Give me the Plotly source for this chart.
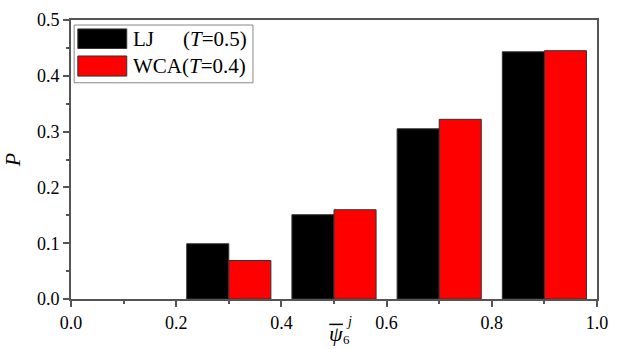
import plotly.graph_objects as go

bins = [0.3, 0.5, 0.7, 0.9]
lj_values = [0.099, 0.151, 0.305, 0.443]
wca_values = [0.069, 0.160, 0.322, 0.445]
x_ticks = [0.0, 0.2, 0.4, 0.6, 0.8, 1.0]
y_ticks = [0.0, 0.1, 0.2, 0.3, 0.4, 0.5]

FONT = "Liberation Serif"
AX = "#555555"

fig = go.Figure()
fig.add_trace(go.Bar(x=bins, y=lj_values, name="LJ (T=0.5)",
                     marker=dict(color="black", line=dict(color="#333333", width=1))))
fig.add_trace(go.Bar(x=bins, y=wca_values, name="WCA(T=0.4)",
                     marker=dict(color="#ff0000", line=dict(color="#333333", width=1))))

fig.update_layout(
    width=618, height=349,
    margin=dict(l=71, r=10, t=15, b=50),
    paper_bgcolor="white", plot_bgcolor="white",
    barmode="group", bargap=0.2, bargroupgap=0,
    showlegend=False,
    font=dict(family=FONT, size=18, color="black"),
)
fig.update_xaxes(range=[0, 1.0], tickvals=x_ticks, ticktext=[f"{v:.1f}" for v in x_ticks],
                 tickfont=dict(family=FONT, size=18),
                 showgrid=False, zeroline=False, showline=True, linecolor=AX, linewidth=2,
                 mirror=True, ticks="outside", ticklen=6, tickwidth=1.5, tickcolor=AX,
                 minor=dict(ticks="outside", ticklen=3, tickwidth=1.5, tickcolor=AX, dtick=0.1))
fig.update_yaxes(range=[0, 0.5], tickvals=y_ticks, ticktext=[f"{v:.1f}" for v in y_ticks],
                 tickfont=dict(family=FONT, size=18),
                 showgrid=False, zeroline=False, showline=True, linecolor=AX, linewidth=2,
                 mirror=True, ticks="outside", ticklen=6, tickwidth=1.5, tickcolor=AX,
                 minor=dict(ticks="outside", ticklen=3, tickwidth=1.5, tickcolor=AX, dtick=0.05),
                 title=dict(text="<i>P</i>", font=dict(family=FONT, size=22), standoff=12))

# x-axis title: psi-bar with subscript 6 and superscript j stacked
fig.add_annotation(xref="paper", yref="paper", x=0.504, y=-0.124, text="<i>ψ</i>", showarrow=False,
                   xanchor="center", yanchor="middle", font=dict(family=FONT, size=22))
fig.add_annotation(xref="paper", yref="paper", x=0.524, y=-0.146, text="6", showarrow=False,
                   xanchor="center", yanchor="middle", font=dict(family=FONT, size=13))
fig.add_annotation(xref="paper", yref="paper", x=0.528, y=-0.080, text="<i>j</i>", showarrow=False,
                   xanchor="center", yanchor="middle", font=dict(family=FONT, size=14))
fig.add_shape(type="line", xref="paper", yref="paper", x0=0.491, x1=0.517, y0=-0.091, y1=-0.091,
              line=dict(color="black", width=1.5))

# manual legend
fig.add_shape(type="rect", xref="paper", yref="paper", x0=0.006, x1=0.346, y0=0.775, y1=0.982,
              line=dict(color="#888888", width=1), fillcolor="white")
fig.add_shape(type="rect", xref="paper", yref="paper", x0=0.013, x1=0.106, y0=0.898, y1=0.968,
              line=dict(color="#333333", width=1), fillcolor="black")
fig.add_shape(type="rect", xref="paper", yref="paper", x0=0.013, x1=0.106, y0=0.799, y1=0.871,
              line=dict(color="#333333", width=1), fillcolor="#ff0000")
fig.add_annotation(xref="paper", yref="paper", x=0.115, y=0.933, text="LJ", showarrow=False,
                   xanchor="left", yanchor="middle", font=dict(family=FONT, size=21))
fig.add_annotation(xref="paper", yref="paper", x=0.338, y=0.933, text="(<i>T</i>=0.5)", showarrow=False,
                   xanchor="right", yanchor="middle", font=dict(family=FONT, size=21))
fig.add_annotation(xref="paper", yref="paper", x=0.115, y=0.835, text="WCA(<i>T</i>=0.4)", showarrow=False,
                   xanchor="left", yanchor="middle", font=dict(family=FONT, size=21))

fig.write_html("out.html")
